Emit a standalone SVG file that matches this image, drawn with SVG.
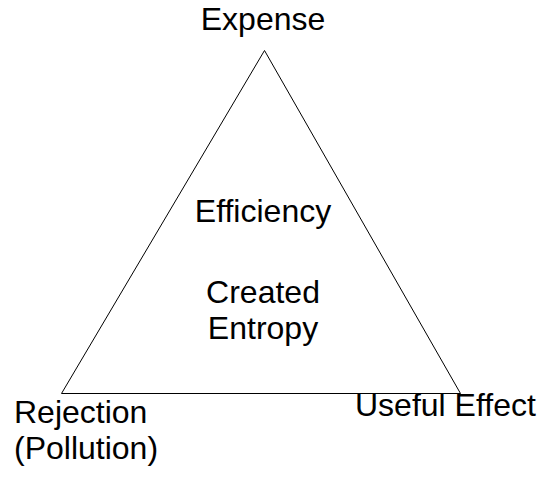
<svg xmlns="http://www.w3.org/2000/svg" width="545" height="481" viewBox="0 0 545 481">
  <style>
    .lbl { font-family: "Liberation Sans", Arial, sans-serif; font-size: 32px; fill: #000; }
    .mid { text-anchor: middle; }
    .edge { fill: none; stroke: #000; stroke-width: 1; }
  </style>
  <rect width="545" height="481" fill="#fff"/>
  <g id="connectors">
    <polygon class="edge" points="264.5,50.5 61.5,393.5 460.5,393.5"/>
  </g>
  <g id="expense">
    <text class="lbl mid" x="263" y="30">Expense</text>
  </g>
  <g id="center">
    <text class="lbl mid" x="263" y="222">Efficiency</text>
    <text class="lbl mid" x="263" y="303">Created</text>
    <text class="lbl mid" x="263" y="339">Entropy</text>
  </g>
  <g id="rejection">
    <text class="lbl" x="14" y="423">Rejection</text>
    <text class="lbl" x="14" y="459">(Pollution)</text>
  </g>
  <g id="useful-effect">
    <text class="lbl" x="355" y="416">Useful Effect</text>
  </g>
</svg>
